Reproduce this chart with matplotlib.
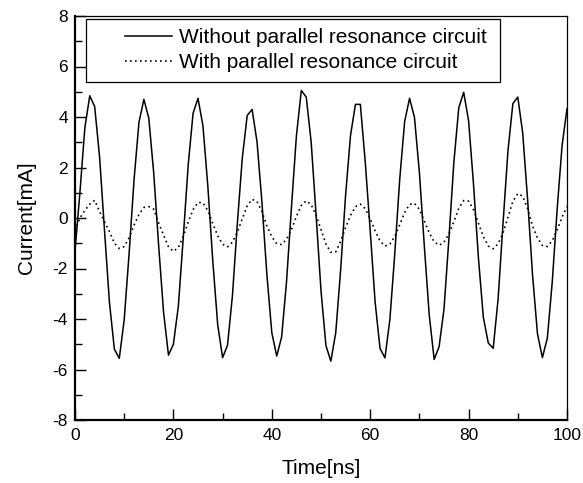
import numpy as np
import matplotlib
matplotlib.use("Agg")
import matplotlib.pyplot as plt
from matplotlib.patches import Rectangle
from matplotlib.ticker import MultipleLocator

plt.rcParams['font.family'] = ['Liberation Sans', 'DejaVu Sans']
plt.rcParams['axes.unicode_minus'] = False

# Time axis [ns]
time_ns = list(range(0, 101))

# Without parallel resonance circuit [mA]
current_without = [
    -1.30, 1.01, 3.57, 4.84, 4.41, 2.41, -0.50, -3.34, -5.19, -5.56,
    -4.03, -1.40, 1.51, 3.79, 4.70, 3.95, 1.78, -1.09, -3.73, -5.43,
    -5.00, -3.50, -0.79, 2.08, 4.15, 4.74, 3.66, 1.26, -1.69, -4.22,
    -5.53, -5.04, -3.07, -0.21, 2.37, 4.06, 4.30, 3.01, 0.61, -2.24,
    -4.54, -5.47, -4.71, -2.51, 0.44, 3.25, 5.05, 4.79, 3.01, 0.12,
    -2.88, -5.05, -5.67, -4.54, -2.03, 0.91, 3.27, 4.50, 4.50, 2.20,
    -0.50, -3.33, -5.17, -5.54, -4.02, -1.40, 1.53, 3.82, 4.74, 3.98,
    1.80, -1.11, -3.84, -5.60, -5.10, -3.61, -0.81, 2.19, 4.36, 4.98,
    3.85, 1.33, -1.59, -3.94, -4.95, -5.16, -3.20, -0.20, 2.66, 4.53,
    4.79, 3.36, 0.71, -2.26, -4.59, -5.53, -4.76, -2.54, 0.35, 2.87,
    4.33,
]

# With parallel resonance circuit [mA]
current_with = [
    -0.50, 0.00, 0.30, 0.55, 0.70, 0.25, -0.15, -0.54, -0.99, -1.21,
    -1.13, -0.78, -0.28, 0.14, 0.42, 0.45, 0.35, -0.20, -0.68, -1.14,
    -1.32, -1.17, -0.73, -0.16, 0.33, 0.62, 0.60, 0.29, -0.22, -0.70,
    -1.04, -1.14, -0.96, -0.56, -0.03, 0.48, 0.74, 0.65, 0.25, -0.32,
    -0.74, -1.02, -1.05, -0.84, -0.46, 0.06, 0.50, 0.68, 0.53, 0.11,
    -0.46, -1.03, -1.36, -1.34, -0.92, -0.38, 0.10, 0.45, 0.55, 0.37,
    -0.03, -0.51, -0.91, -1.11, -1.04, -0.73, -0.27, 0.22, 0.54, 0.58,
    0.34, -0.12, -0.59, -0.94, -1.08, -0.96, -0.63, -0.15, 0.38, 0.69,
    0.67, 0.33, -0.21, -0.74, -1.11, -1.22, -1.02, -0.59, 0.03, 0.66,
    0.97, 0.86, 0.37, -0.32, -0.79, -1.09, -1.13, -0.90, -0.47, 0.04,
    0.45,
]

series_labels = ["Without parallel resonance circuit",
                 "With parallel resonance circuit"]
x_ticks = [0, 20, 40, 60, 80, 100]
y_ticks = [-8, -6, -4, -2, 0, 2, 4, 6, 8]

fig = plt.figure(figsize=(5.83, 4.83), dpi=100)
ax = fig.add_axes([75/583, 1-420/483, (567-75)/583, (420-16)/483])

l1, = ax.plot(time_ns, current_without, color='black', lw=1.1,
              linestyle='-')
l2, = ax.plot(time_ns, current_with, color='black', lw=1.2,
              linestyle=(0, (1, 2)))

ax.set_xlim(0, 100)
ax.set_ylim(-8, 8)
ax.set_xticks(x_ticks)
ax.set_yticks(y_ticks)
ax.xaxis.set_minor_locator(MultipleLocator(10))
ax.yaxis.set_minor_locator(MultipleLocator(1))
ax.tick_params(which='both', direction='in', top=False, right=False,
               labelsize=12.5, colors='black')
ax.tick_params(which='major', length=8, width=1.0)
ax.tick_params(which='minor', length=5, width=1.0)
ax.tick_params(axis='x', which='both', pad=6)
ax.tick_params(axis='y', which='both', pad=5)

for side in ['left', 'bottom']:
    ax.spines[side].set_linewidth(1.6)
for side in ['top', 'right']:
    ax.spines[side].set_linewidth(0.9)

ax.set_xlabel("Time[ns]", fontsize=15, labelpad=11)
ax.set_ylabel("Current[mA]", fontsize=15, labelpad=12)

# legend frame
ax.add_patch(Rectangle(((86-75)/492, (420-82)/404), (500-86)/492,
                       (82-19)/404, transform=ax.transAxes,
                       facecolor='white', edgecolor='black', lw=0.9,
                       zorder=4))
fs_px = 15 * 100 / 72
leg = ax.legend([l1, l2], series_labels, loc='upper left',
                bbox_to_anchor=((125-75)/492, (420-28)/404),
                frameon=False, fontsize=15, borderpad=0,
                borderaxespad=0, handlelength=47/fs_px,
                handletextpad=7/fs_px, labelspacing=0.3)
leg.set_zorder(5)

fig.savefig("out.png", dpi=100)
